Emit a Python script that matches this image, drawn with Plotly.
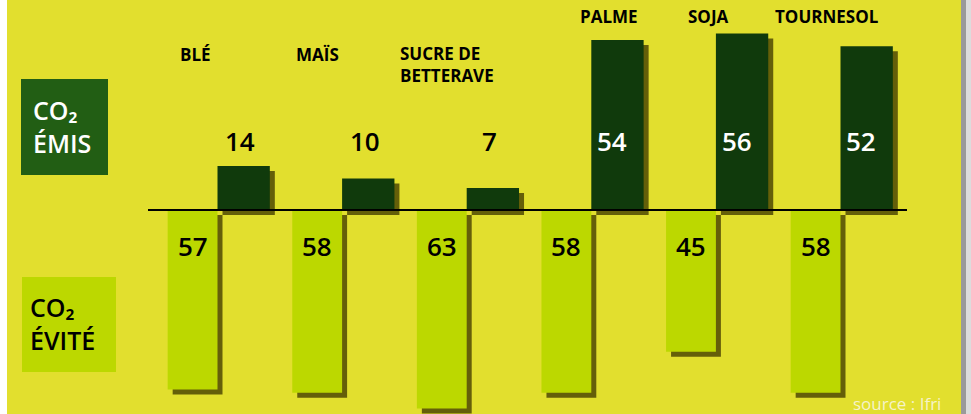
import plotly.graph_objects as go

# ---- data ----
categories = ["BLÉ", "MAÏS", "SUCRE DE<br>BETTERAVE", "PALME", "SOJA", "TOURNESOL"]
co2_emis = [14, 10, 7, 54, 56, 52]
co2_evite = [57, 58, 63, 58, 45, 58]
source_text = "source : Ifri"

# ---- style ----
W, H = 971, 414
BG = "#e2df2e"
DARK = "#103a0c"
LIGHT = "#bcd800"
LEG_DARK = "#225e14"
SHADOW = "rgba(70,62,0,0.80)"
FONT = "Open Sans"
PX_PER_UNIT = 3.15
BASE_PX = 210
CAT_PX = 124.6          # pixel width of one category slot
BAR_W = 0.4
SH = 5 / CAT_PX         # shadow offset (x, category units)
SHY = 5 / PX_PER_UNIT   # shadow offset (y, data units)

def px(x):
    return x / W

def py(y):
    return 1 - y / H

idx = list(range(len(categories)))

fig = go.Figure()

# shadows
fig.add_trace(go.Bar(x=idx, y=[-v for v in co2_evite], base=[-SHY] * len(idx),
                     width=BAR_W, offset=-BAR_W + SH, marker_color=SHADOW,
                     marker_line_width=0, hoverinfo="skip", showlegend=False))
fig.add_trace(go.Bar(x=idx, y=co2_emis, base=[-SHY] * len(idx),
                     width=BAR_W + 0.02, offset=SH, marker_color=SHADOW,
                     marker_line_width=0, hoverinfo="skip", showlegend=False))
# bars
fig.add_trace(go.Bar(x=idx, y=[-v for v in co2_evite], width=BAR_W, offset=-BAR_W,
                     marker_color=LIGHT, marker_line_width=0, name="CO2 évité",
                     showlegend=False))
fig.add_trace(go.Bar(x=idx, y=co2_emis, width=BAR_W + 0.02, offset=0,
                     marker_color=DARK, marker_line_width=0, name="CO2 émis",
                     showlegend=False))

ann = []
# value labels
for i, v in enumerate(co2_emis):
    inside = v > 30
    ann.append(dict(x=i + 0.2, y=22, xref="x", yref="y", text=str(v), showarrow=False,
                    font=dict(family=FONT, size=26, weight=600,
                              color="white" if inside else "black"),
                    xshift=-4 if inside else -2))
for i, v in enumerate(co2_evite):
    ann.append(dict(x=i - 0.2, y=-11.5, xref="x", yref="y", text=str(v), showarrow=False,
                    font=dict(family=FONT, size=26, weight=600, color="black")))

# category labels
label_dx = [-22, -25, -20, 18, -7, -14]
for i, (c, v) in enumerate(zip(categories, co2_emis)):
    lvl = 61.3 if v > 30 else 49.5
    ann.append(dict(x=i, y=lvl, xref="x", yref="y", text=c, showarrow=False,
                    xshift=label_dx[i], align="left", yanchor="middle",
                    font=dict(family=FONT, size=17, weight=700, color="black"),
                    yshift=-10 if "<br>" in c else 0))

# legend boxes
ann.append(dict(x=px(31), y=py(126), xref="paper", yref="paper", xanchor="left",
                yanchor="middle", align="left", showarrow=False,
                text="CO₂<br>ÉMIS",
                font=dict(family=FONT, size=25, weight=600, color="white")))
ann.append(dict(x=px(28), y=py(323), xref="paper", yref="paper", xanchor="left",
                yanchor="middle", align="left", showarrow=False,
                text="CO₂<br>ÉVITÉ",
                font=dict(family=FONT, size=25, weight=600, color="black")))

# source
ann.append(dict(x=px(943), y=py(403), xref="paper", yref="paper", xanchor="right",
                yanchor="middle", showarrow=False, text=source_text,
                font=dict(family=FONT, size=17, color="#f6f3c8")))

shapes = [
    dict(type="rect", xref="paper", yref="paper", x0=px(7), x1=px(961), y0=0, y1=1,
         fillcolor=BG, line_width=0, layer="below"),
    dict(type="rect", xref="paper", yref="paper", x0=px(961), x1=px(966), y0=0, y1=1,
         fillcolor="#9a9a9a", line_width=0, layer="below"),
    dict(type="rect", xref="paper", yref="paper", x0=px(966), x1=1, y0=0, y1=1,
         fillcolor="#dcdcdc", line_width=0, layer="below"),
    dict(type="rect", xref="paper", yref="paper", x0=px(21), x1=px(108),
         y0=py(175), y1=py(79), fillcolor=LEG_DARK, line_width=0, layer="below"),
    dict(type="rect", xref="paper", yref="paper", x0=px(22), x1=px(116),
         y0=py(372), y1=py(277), fillcolor=LIGHT, line_width=0, layer="below"),
    dict(type="line", xref="paper", yref="y", x0=px(148), x1=px(907), y0=0, y1=0,
         line=dict(color="black", width=2), layer="above"),
]

center_px = 529
x0_px = center_px - 3 * CAT_PX
x1_px = center_px + 3 * CAT_PX

fig.update_layout(
    width=W, height=H,
    margin=dict(l=0, r=0, t=0, b=0),
    paper_bgcolor="white",
    plot_bgcolor="rgba(0,0,0,0)",
    barmode="overlay",
    xaxis=dict(domain=[px(x0_px), px(x1_px)], range=[-0.5, len(idx) - 0.5],
               visible=False, fixedrange=True),
    yaxis=dict(domain=[0, 1], range=[-(H - BASE_PX) / PX_PER_UNIT, BASE_PX / PX_PER_UNIT],
               visible=False, fixedrange=True),
    annotations=ann,
    shapes=shapes,
    showlegend=False,
)

fig.write_html("out.html", config={"displayModeBar": False},
               post_script="document.body.style.margin='0px';document.body.style.overflow='hidden';")
